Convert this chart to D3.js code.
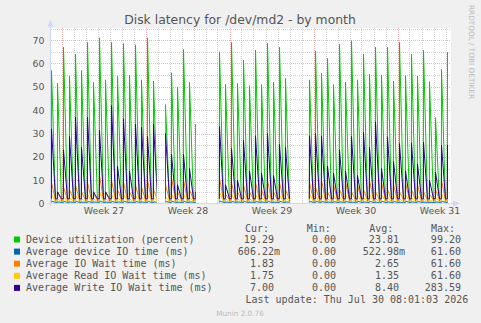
<!DOCTYPE html>
<html>
<head>
<meta charset="utf-8">
<script src="https://cdn.jsdelivr.net/npm/d3@7"></script>
<style>
  body { margin: 0; background: #f0f0f0; }
  svg { display: block; }
  text { font-family: "DejaVu Sans", sans-serif; }
  .mono { font-family: "DejaVu Sans Mono", monospace; font-size: 10px; fill: #555; }
</style>
</head>
<body>
<svg id="chart" width="481" height="323"></svg>
<script>
// busy periods come every 12 hours, first one Jun 28 04:00 (UTC); null = no data
const slotStart = Date.UTC(2026, 5, 28, 4);

const utilPeaks = [57, 51.5, 67, 54.5, 64, 57, 69, 52, 71, 53, 69, 54.5, 68.5, 55, 68, 53, 71, 52.5,
  null,
  42.5, 56, 50, 66, 52, 34,
  null, null, null,
  65, 51, 69, 51.5, 61.5, 50.5, 65.8, 51, 68.7, 52, 67, 53.6,
  null, null, null,
  53, 65.4, 55.8, 62.2, 51, 68.2, 52, 69.7, 53, 64, 55.4, 67, 55, 67, 52.5, 69, 54.8, 64, 54.6, 65.7, 52.2, 36.8, 57.5, 64.8];

const ioTimePeaks = [1, 0.7, 0.9, 0.7, 1, 0.6, 0.9, 0.7, 1.1, 0.6, 0.9, 0.7, 1, 0.6, 0.9, 0.7, 1, 0.7,
  null,
  0.9, 1, 0.6, 0.9, 0.7, 0.5,
  null, null, null,
  1.1, 0.6, 0.9, 0.7, 1, 0.6, 0.9, 0.7, 1, 0.6, 0.9, 0.7,
  null, null, null,
  0.9, 1, 0.9, 0.6, 0.8, 0.7, 0.9, 0.6, 1, 0.7, 0.9, 0.6, 1, 0.7, 0.9, 0.6, 1, 0.7, 0.9, 0.6, 0.5, 0.7, 1, 1.1];

const waitPeaks = [9, 5, 7, 6, 8, 5, 9, 4, 12, 5, 10, 6, 9, 5, 8, 7, 10, 6,
  null,
  8, 11, 5, 10, 6, 3,
  null, null, null,
  11, 4, 9, 5, 8, 5, 9, 6, 10, 5, 9, 6,
  null, null, null,
  9, 7, 10, 5, 8, 6, 9, 5, 8, 6, 10, 5, 9, 6, 8, 5, 9, 6, 8, 5, 4, 6, 10, 12];

const readPeaks = [4, 2, 3, 2.5, 3.5, 2, 4, 2, 5, 2, 4, 2.5, 4, 2, 3.5, 3, 4, 2.5,
  null,
  3, 4, 2, 4, 2.5, 1.5,
  null, null, null,
  5, 2, 4, 2, 3.5, 2, 4, 2.5, 4, 2, 3.5, 2.5,
  null, null, null,
  4, 3, 4, 2, 3.5, 2.5, 4, 2, 3.5, 2.5, 4, 2, 4, 2.5, 3.5, 2, 4, 2.5, 3.5, 2, 1.5, 2.5, 4, 5];

const writePeaks = [32, 5, 23, 28.7, 37, 24, 37, 5, 31.3, 5, 42, 16, 36.3, 14, 34, 32.7, 28.7, 34,
  null,
  30, 21, 8, 21, 15, 5,
  null, null, null,
  33, 8, 23.5, 10, 27, 14, 29, 13, 30, 12, 25.3, 24,
  null, null, null,
  29, 30, 29, 16, 13, 23, 14, 28.7, 12, 30.5, 24, 35, 15, 28.6, 18, 25.7, 14, 26, 17, 26.3, 10, 13.4, 25, 25];

// quiet level between the busy periods, per series
const floors = [0.5, 0.5, 1.5, 0.8, 2];

// stretches where the rrd actually has data
const dataRanges = [
  ["2026-06-28T00:00Z", "2026-07-06T22:30Z"],
  ["2026-07-07T15:30Z", "2026-07-10T04:30Z"],
  ["2026-07-11T22:00Z", "2026-07-18T01:00Z"],
  ["2026-07-19T10:00Z", "2026-07-31T05:00Z"]
];

const seriesNames = ["Device utilization (percent)", "Average device IO time (ms)", "Average IO Wait time (ms)",
  "Average Read IO Wait time (ms)", "Average Write IO Wait time (ms)"];
const seriesColors = ["#00cc00", "#0066b3", "#ff8000", "#ffcc00", "#330099"];
const curVals = ["19.29", "606.22m", "1.83", "1.75", "7.00"];
const minVals = ["0.00", "0.00", "0.00", "0.00", "0.00"];
const avgVals = ["23.81", "522.98m", "2.65", "1.35", "8.40"];
const maxVals = ["99.20", "61.60", "61.60", "61.60", "283.59"];

const yTicks = [0, 10, 20, 30, 40, 50, 60, 70];
const weekLabels = ["Week 27", "Week 28", "Week 29", "Week 30", "Week 31"];

const svg = d3.select("#chart");
const H = 3600e3;

const x = d3.scaleUtc()
  .domain([new Date(Date.UTC(2026, 5, 28, 2)), new Date(Date.UTC(2026, 6, 31, 10))])
  .range([50.5, 450.5]);
const y = d3.scaleLinear().domain([0, 75]).range([203.5, 28.5]);

// canvas
svg.append("rect").attr("x", 50.5).attr("y", 28).attr("width", 400.5).attr("height", 175.5).attr("fill", "#fff");

// grid
const grid = svg.append("g").attr("shape-rendering", "crispEdges");
const days = d3.utcDay.range(x.domain()[0], x.domain()[1]);
const mondays = d3.utcMonday.range(x.domain()[0], x.domain()[1]);
const minorCol = "#d0d0d0", majorCol = "#f0b4b4";
grid.selectAll(".vmin").data(days).enter().append("line")
  .attr("x1", d => Math.round(x(d)) + 0.5).attr("x2", d => Math.round(x(d)) + 0.5)
  .attr("y1", 28).attr("y2", 203.5)
  .attr("stroke", minorCol).attr("stroke-dasharray", "1,1");
grid.selectAll(".hmin").data(d3.range(5, 80, 5)).enter().append("line")
  .attr("x1", 50.5).attr("x2", 451)
  .attr("y1", d => Math.round(y(d)) + 0.5).attr("y2", d => Math.round(y(d)) + 0.5)
  .attr("stroke", minorCol).attr("stroke-dasharray", "1,1");
grid.selectAll(".vmaj").data(mondays).enter().append("line")
  .attr("x1", d => Math.round(x(d)) + 0.5).attr("x2", d => Math.round(x(d)) + 0.5)
  .attr("y1", 28).attr("y2", 203.5)
  .attr("stroke", majorCol).attr("stroke-dasharray", "1,1");
grid.selectAll(".hmaj").data(yTicks.slice(1)).enter().append("line")
  .attr("x1", 50.5).attr("x2", 451)
  .attr("y1", d => Math.round(y(d)) + 0.5).attr("y2", d => Math.round(y(d)) + 0.5)
  .attr("stroke", majorCol).attr("stroke-dasharray", "1,1");

// clip to the stretches with data
const clip = svg.append("clipPath").attr("id", "have-data");
clip.selectAll("rect").data(dataRanges).enter().append("rect")
  .attr("x", d => x(new Date(d[0]))).attr("width", d => x(new Date(d[1])) - x(new Date(d[0])))
  .attr("y", 0).attr("height", 210);

function spikes(peaks, floor) {
  const pts = [];
  peaks.forEach((p, i) => {
    const t = slotStart + i * 12 * H;
    if (p == null) { pts.push(null); return; }
    pts.push([t - 0.3 * H, floor], [t, p], [t + 8 * H, floor]);
  });
  return pts;
}
const line = d3.line().defined(d => d != null).x(d => x(d[0])).y(d => y(d[1]));

const allPeaks = [utilPeaks, ioTimePeaks, waitPeaks, readPeaks, writePeaks];
const lines = svg.append("g").attr("clip-path", "url(#have-data)");
allPeaks.forEach((peaks, i) => {
  lines.append("path")
    .attr("d", line(spikes(peaks, floors[i])))
    .attr("fill", "none")
    .attr("stroke", seriesColors[i])
    .attr("stroke-width", 1);
});

// axes lines + arrows
const axisCol = "#cfd6f8";
svg.append("line").attr("x1", 50.5).attr("x2", 50.5).attr("y1", 206).attr("y2", 24)
  .attr("stroke", axisCol);
svg.append("path").attr("d", "M47.5,26.5L50.5,19.5L53.5,26.5Z").attr("fill", axisCol);
svg.append("line").attr("x1", 47).attr("x2", 455).attr("y1", 203.5).attr("y2", 203.5)
  .attr("stroke", axisCol);
svg.append("path").attr("d", "M453,200.5L460,203.5L453,206.5Z").attr("fill", axisCol);

// y axis labels
const yAxis = svg.append("g").attr("transform", "translate(50.5,0)")
  .call(d3.axisLeft(y).tickValues(yTicks).tickSize(0).tickPadding(6));
yAxis.select(".domain").remove();
yAxis.selectAll("text").attr("font-family", "DejaVu Sans").attr("font-size", 9.4).attr("fill", "#555");

// x axis labels, centred in their week
const weekMids = mondays.map(d => new Date(+d + 3.5 * 24 * H));
const xAxis = svg.append("g").attr("transform", "translate(0,203.5)")
  .call(d3.axisBottom(x).tickValues(weekMids).tickFormat((d, i) => weekLabels[i]).tickSize(0).tickPadding(4));
xAxis.select(".domain").remove();
xAxis.selectAll("text").attr("font-family", "DejaVu Sans").attr("font-size", 9.4).attr("fill", "#555");

// title
svg.append("text").attr("x", 240).attr("y", 24).attr("text-anchor", "middle")
  .attr("font-size", 12.4).attr("fill", "#555").text("Disk latency for /dev/md2 - by month");

// side label
svg.append("text").attr("transform", "translate(469,5) rotate(90)")
  .attr("font-size", 7.3).attr("fill", "#bbb").text("RRDTOOL / TOBI OETIKER");

// legend
const charW = 6.02;
const heads = [["Cur:", 245], ["Min:", 306.7], ["Avg:", 369.3], ["Max:", 431]];
heads.forEach(h => svg.append("text").attr("class", "mono").attr("x", h[1]).attr("y", 232).text(h[0]));

const cols = [[curVals, 280], [minVals, 342], [avgVals, 405], [maxVals, 467]];
seriesNames.forEach((name, i) => {
  const by = 243 + i * 12.1;
  svg.append("rect").attr("x", 14).attr("y", by - 6.5).attr("width", 6).attr("height", 6)
    .attr("fill", seriesColors[i]);
  svg.append("text").attr("class", "mono").attr("x", 26).attr("y", by).text(name);
  cols.forEach(c => {
    const v = c[0][i];
    svg.append("text").attr("class", "mono").attr("text-anchor", "end")
      .attr("x", v.endsWith("m") ? c[1] : c[1] - charW).attr("y", by).text(v);
  });
});
svg.append("text").attr("class", "mono").attr("x", 245.5).attr("y", 303)
  .text("Last update: Thu Jul 30 08:01:03 2026");
svg.append("text").attr("x", 240).attr("y", 316).attr("text-anchor", "middle")
  .attr("font-size", 7.3).attr("fill", "#bbb").text("Munin 2.0.76");
</script>
</body>
</html>
